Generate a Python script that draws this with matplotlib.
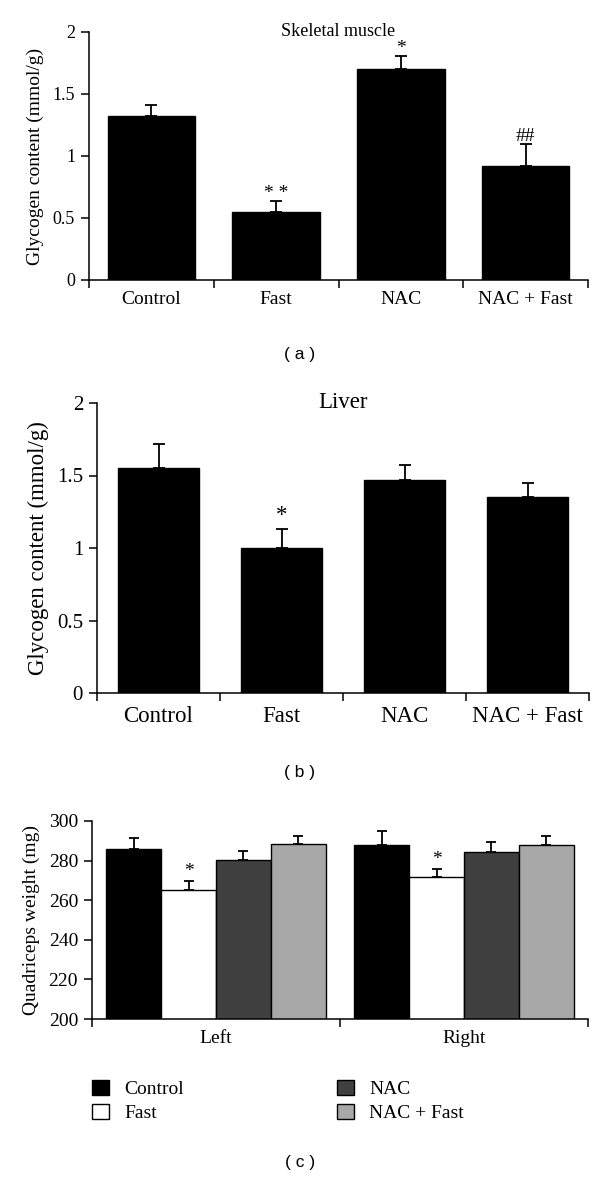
import numpy as np
import matplotlib
matplotlib.use("Agg")
import matplotlib.pyplot as plt

groups = ["Control", "Fast", "NAC", "NAC + Fast"]

# (a) skeletal muscle glycogen
muscle_mean = [1.32, 0.55, 1.70, 0.92]
muscle_err = [0.09, 0.09, 0.11, 0.18]
muscle_marks = ["", "* *", "*", "##"]

# (b) liver glycogen
liver_mean = [1.55, 1.00, 1.47, 1.35]
liver_err = [0.17, 0.13, 0.10, 0.10]
liver_marks = ["", "*", "", ""]

# (c) quadriceps weight
sides = ["Left", "Right"]
quad_mean = {
    "Control": [286, 288],
    "Fast": [265, 271.5],
    "NAC": [280.5, 284.5],
    "NAC + Fast": [288.5, 288],
}
quad_err = {
    "Control": [5.5, 7],
    "Fast": [4.5, 4.5],
    "NAC": [4.5, 5],
    "NAC + Fast": [4, 4.5],
}
quad_marks = {"Fast": ["*", "*"]}
quad_colors = {"Control": "#000000", "Fast": "#ffffff", "NAC": "#404040", "NAC + Fast": "#a8a8a8"}

serif = ["Liberation Serif", "DejaVu Serif"]
sans = ["Liberation Sans", "DejaVu Sans"]
plt.rcParams["font.family"] = serif

H = 1180
fig = plt.figure(figsize=(6, 11.8), dpi=100)


def style_axis(ax, tick_fs):
    for s in ("top", "right"):
        ax.spines[s].set_visible(False)
    ax.spines["left"].set_linewidth(1.1)
    ax.spines["bottom"].set_linewidth(1.1)
    ax.tick_params(which="major", direction="out", length=6, width=1.1,
                   labelsize=tick_fs, pad=4)


def glycogen_panel(rect, means, errs, marks, title, tick_fs, cat_fs, ylab_fs,
                   width, pad, title_fs, mark_gap):
    ax = fig.add_axes(rect)
    x = np.arange(len(groups))
    ax.bar(x, means, width=width, color="black", edgecolor="black", zorder=2)
    ax.errorbar(x, means, yerr=[np.zeros(len(errs)), errs], fmt="none",
                ecolor="black", elinewidth=1.3, capsize=4, capthick=1.3, zorder=1)
    for xi, m, e, t in zip(x, means, errs, marks):
        if t:
            ax.text(xi, m + e + mark_gap, t, ha="center", va="bottom", fontsize=cat_fs)
    ax.set_xlim(-0.5, 3.5)
    ax.set_ylim(0, 2)
    ax.set_yticks([0, 0.5, 1, 1.5, 2])
    ax.set_yticklabels(["0", "0.5", "1", "1.5", "2"])
    ax.set_xticks([-0.5, 0.5, 1.5, 2.5, 3.5])
    ax.set_xticklabels([])
    ax.set_xticks(x, minor=True)
    ax.set_xticklabels(groups, minor=True)
    ax.set_ylabel("Glycogen content (mmol/g)", fontsize=ylab_fs, labelpad=6)
    ax.text(1.5, 2.0, title, ha="center", va="center", fontsize=title_fs)
    style_axis(ax, tick_fs)
    ax.tick_params(axis="x", which="minor", length=0, pad=pad, labelsize=cat_fs)
    return ax


glycogen_panel([89 / 600, 1 - 280 / H, 499 / 600, 248 / H], muscle_mean, muscle_err,
               muscle_marks, "Skeletal muscle", 13, 14, 14, 0.70, 8, 13, -0.01)
fig.text(0.5, 1 - 354 / H, "( a )", ha="center", va="center", fontsize=12.5, family=sans)

glycogen_panel([97 / 600, 1 - 693 / H, 492 / 600, 290 / H], liver_mean, liver_err,
               liver_marks, "Liver", 15, 16.5, 16.5, 0.66, 9, 16.5, 0.02)
fig.text(0.5, 1 - 773 / H, "( b )", ha="center", va="center", fontsize=12.5, family=sans)

# (c)
ax = fig.add_axes([92 / 600, 1 - 1019 / H, 496 / 600, 198 / H])
xs = np.arange(len(sides))
w = 0.221
handles = []
for i, g in enumerate(groups):
    pos = xs + (i - 1.5) * w
    h = ax.bar(pos, quad_mean[g], width=w, color=quad_colors[g],
               edgecolor="black", linewidth=1.0, zorder=2)
    handles.append(h)
    ax.errorbar(pos, quad_mean[g], yerr=[np.zeros(2), quad_err[g]], fmt="none",
                ecolor="black", elinewidth=1.3, capsize=3.5, capthick=1.3, zorder=1)
    for p, m, e, t in zip(pos, quad_mean[g], quad_err[g], quad_marks.get(g, ["", ""])):
        if t:
            ax.text(p, m + e + 0.5, t, ha="center", va="bottom", fontsize=14)
ax.set_xlim(-0.5, 1.5)
ax.set_ylim(200, 300)
ax.set_yticks(range(200, 301, 20))
ax.set_xticks([-0.5, 0.5, 1.5])
ax.set_xticklabels([])
ax.set_xticks(xs, minor=True)
ax.set_xticklabels(sides, minor=True)
ax.set_ylabel("Quadriceps weight (mg)", fontsize=14, labelpad=6)
style_axis(ax, 14)
ax.tick_params(axis="x", which="minor", length=0, pad=8, labelsize=14)

fig.legend(handles, groups, loc="upper left", bbox_to_anchor=(92 / 600, 1 - 1080 / H),
           ncol=2, frameon=False, fontsize=14, handlelength=0.85, handleheight=0.8,
           columnspacing=7.9, labelspacing=0.3, handletextpad=0.8,
           borderpad=0, borderaxespad=0)
fig.text(0.5, 1 - 1162 / H, "( c )", ha="center", va="center", fontsize=12.5, family=sans)

fig.savefig("out.png", dpi=100)
